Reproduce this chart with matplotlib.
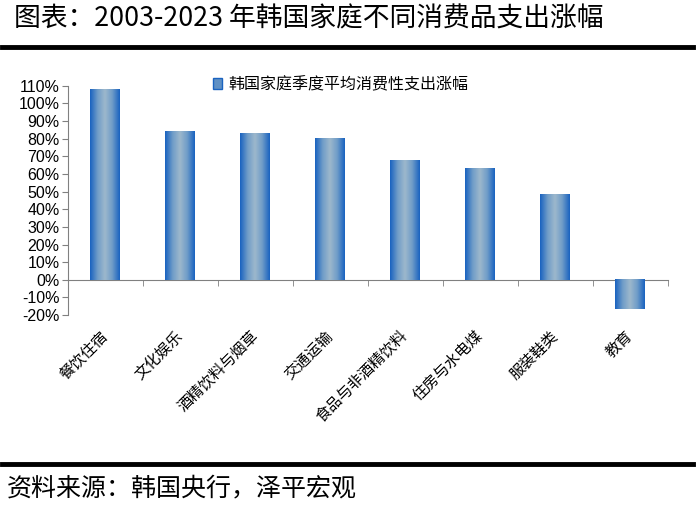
import numpy as np
import matplotlib.pyplot as plt
from matplotlib.colors import LinearSegmentedColormap
from matplotlib.ticker import FuncFormatter, MultipleLocator
from matplotlib.patches import Patch

plt.rcParams['font.family'] = ['Noto Sans CJK SC', 'DejaVu Sans']

# 数据
categories = ["餐饮住宿", "文化娱乐", "酒精饮料与烟草", "交通运输",
              "食品与非酒精饮料", "住房与水电煤", "服装鞋类", "教育"]
values = [108, 84, 83, 80, 68, 63.5, 48.5, -16.5]
series_name = "韩国家庭季度平均消费性支出涨幅"

fig = plt.figure(figsize=(7, 5.05), dpi=100)
ax = fig.add_axes([0.097, 0.376, 0.857, 0.454])

# 渐变色柱子：两侧深蓝，中间浅灰蓝
cmap = LinearSegmentedColormap.from_list(
    "bar", ["#1a63c0", "#6f9cc8", "#9db8cc", "#6f9cc8", "#1a63c0"])
grad = np.linspace(0, 1, 64).reshape(1, -1)
width = 0.4
x = np.arange(len(categories))
bars = ax.bar(x, values, width=width, color="none", edgecolor="none")
for b in bars:
    x0 = b.get_x()
    y0, h = b.get_y(), b.get_height()
    ax.imshow(grad, cmap=cmap, aspect="auto",
              extent=[x0, x0 + b.get_width(), min(y0, y0 + h), max(y0, y0 + h)],
              zorder=3)

ax.set_xlim(-0.5, len(categories) - 0.5)
ax.set_ylim(-20, 110)
ax.yaxis.set_major_locator(MultipleLocator(10))
ax.yaxis.set_major_formatter(FuncFormatter(lambda v, p: f"{v:.0f}%"))

for s in ["top", "right"]:
    ax.spines[s].set_visible(False)
ax.spines["bottom"].set_position(("data", 0))
ax.spines["left"].set_color("#808080")
ax.spines["bottom"].set_color("#808080")

ax.set_xticks(x)
ax.set_xticklabels([])
ax.tick_params(axis="x", which="major", length=0)
ax.set_xticks(np.arange(-0.5, len(categories), 1), minor=True)
ax.tick_params(axis="x", which="minor", length=4, color="#808080", direction="out")
ax.tick_params(axis="y", length=4, color="#808080", labelsize=11.5, pad=2)
for lab in ax.get_yticklabels():
    lab.set_family(["Liberation Sans", "DejaVu Sans"])

for xi, name in zip(x, categories):
    ax.text(xi - 0.08, -27, name, rotation=45, ha="right", va="top",
            rotation_mode="anchor", fontsize=11, family="Noto Sans CJK SC")

# 图例
handle = Patch(facecolor="#5f90c4", edgecolor="#1a63c0")
ax.legend([handle], [series_name], loc="upper center", bbox_to_anchor=(0.455, 1.105),
          frameon=False, fontsize=11.5, handlelength=0.6, handleheight=0.6,
          handletextpad=0.4)

# 标题与来源
fig.text(0.02, 0.962, "图表：2003-2023 年韩国家庭不同消费品支出涨幅",
         fontsize=19.3, va="center", ha="left")
fig.add_artist(plt.Line2D([0.003, 0.99], [0.907, 0.907], color="black", lw=3.5))
fig.add_artist(plt.Line2D([0.003, 0.99], [0.081, 0.081], color="black", lw=3.5))
fig.text(0.01, 0.033, "资料来源：韩国央行，泽平宏观", fontsize=18,
         style="italic", va="center", ha="left")

fig.savefig("out.png", dpi=100)
